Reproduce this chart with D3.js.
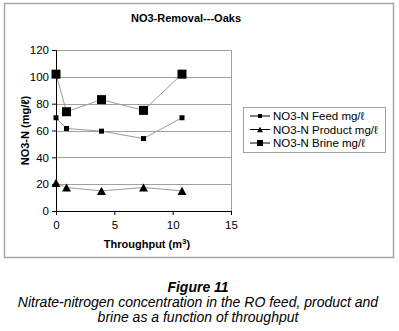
<!DOCTYPE html>
<html>
<head>
<meta charset="utf-8">
<script src="https://cdn.jsdelivr.net/npm/d3@7"></script>
<style>
  body { margin: 0; background: #fff; }
  svg { display: block; font-family: Arial, "Liberation Sans", sans-serif; }
</style>
</head>
<body>
<div id="chart"></div>
<script>
// data
const throughput = [0, 0.9, 3.9, 7.5, 10.8];
const feed = [69.5, 61.5, 59.5, 54, 69.5];
const product = [21, 17.5, 15, 17.5, 15];
const brine = [102, 74, 83, 75, 102];
const seriesNames = ["NO3-N Feed mg/\u2113", "NO3-N Product mg/\u2113", "NO3-N Brine mg/\u2113"];
const xTicks = [0, 5, 10, 15];
const yTicks = [0, 20, 40, 60, 80, 100, 120];

const width = 399, height = 331;
const svg = d3.select("#chart").append("svg")
    .attr("width", width)
    .attr("height", height);

// outer chart frame
svg.append("rect")
    .attr("x", 4.5).attr("y", 3.5)
    .attr("width", 389).attr("height", 254)
    .attr("fill", "none")
    .attr("stroke", "#a6a6a6")
    .attr("stroke-width", 1.5);

// title
svg.append("text")
    .attr("x", 186).attr("y", 22)
    .attr("text-anchor", "middle")
    .style("font-size", "11px")
    .style("font-weight", "bold")
    .text("NO3-Removal---Oaks");

const plot = { left: 56, right: 231, top: 50, bottom: 211 };

const x = d3.scaleLinear().domain([0, 15]).range([plot.left, plot.right]);
const y = d3.scaleLinear().domain([0, 120]).range([plot.bottom, plot.top]);

// gridlines
svg.append("g")
    .selectAll("line")
    .data(yTicks.filter(d => d > 0))
    .enter().append("line")
    .attr("x1", plot.left).attr("x2", plot.right)
    .attr("y1", d => Math.round(y(d)) + 0.5)
    .attr("y2", d => Math.round(y(d)) + 0.5)
    .attr("stroke", "#a0a0a0");

// right edge of plot area
svg.append("line")
    .attr("x1", plot.right + 0.5).attr("x2", plot.right + 0.5)
    .attr("y1", plot.top).attr("y2", plot.bottom)
    .attr("stroke", "#a0a0a0");

// axes
const yAxis = svg.append("g")
    .attr("transform", `translate(${plot.left},0)`)
    .call(d3.axisLeft(y).tickValues(yTicks).tickSize(4).tickPadding(3));
const xAxis = svg.append("g")
    .attr("transform", `translate(0,${plot.bottom})`)
    .call(d3.axisBottom(x).tickValues(xTicks).tickSize(4).tickPadding(6));

[xAxis, yAxis].forEach(g => {
    g.selectAll("text").style("font-size", "11.5px").style("font-family", "Arial, 'Liberation Sans', sans-serif").attr("fill", "#000");
    g.select(".domain").attr("stroke", "#000");
    g.selectAll(".tick line").attr("stroke", "#000");
});

// axis titles
svg.append("text")
    .attr("transform", `translate(25,${(plot.top + plot.bottom) / 2}) rotate(-90)`)
    .attr("text-anchor", "middle")
    .attr("dy", "0.35em")
    .style("font-size", "11px")
    .style("font-weight", "bold")
    .text("NO3-N (mg/\u2113)");

const xTitle = svg.append("text")
    .attr("x", 147).attr("y", 248)
    .attr("text-anchor", "middle")
    .style("font-size", "11px")
    .style("font-weight", "bold");
xTitle.append("tspan").text("Throughput (m");
xTitle.append("tspan").attr("dy", -4).style("font-size", "8px").text("3");
xTitle.append("tspan").attr("dy", 4).text(")");

// series
const line = d3.line().x(d => x(d[0])).y(d => y(d[1]));
const series = [
    { name: seriesNames[0], values: feed, shape: "square", size: 5 },
    { name: seriesNames[1], values: product, shape: "triangle", size: 9 },
    { name: seriesNames[2], values: brine, shape: "square", size: 9 }
];

function drawMarker(g, shape, size, cx, cy) {
    if (shape === "square") {
        g.append("rect")
            .attr("x", cx - size / 2).attr("y", cy - size / 2)
            .attr("width", size).attr("height", size)
            .attr("fill", "#000");
    } else {
        const h = size * 0.9;
        g.append("path")
            .attr("d", `M${cx},${cy - h / 2}L${cx + size / 2},${cy + h / 2}L${cx - size / 2},${cy + h / 2}Z`)
            .attr("fill", "#000");
    }
}

series.forEach(s => {
    const pts = throughput.map((t, i) => [t, s.values[i]]);
    svg.append("path")
        .attr("d", line(pts))
        .attr("fill", "none")
        .attr("stroke", "#9a9a9a")
        .attr("stroke-width", 1);
    const g = svg.append("g");
    pts.forEach(p => drawMarker(g, s.shape, s.size, x(p[0]), y(p[1])));
});

// legend
const legend = svg.append("g");
legend.append("rect")
    .attr("x", 243.5).attr("y", 107.5)
    .attr("width", 142).attr("height", 45)
    .attr("fill", "#fff")
    .attr("stroke", "#a0a0a0");

series.forEach((s, i) => {
    const ly = 116 + i * 13.5;
    legend.append("line")
        .attr("x1", 250).attr("x2", 270)
        .attr("y1", ly).attr("y2", ly)
        .attr("stroke", "#000");
    drawMarker(legend, s.shape, s.shape === "square" ? (i === 0 ? 4 : 6) : 6, 260, ly);
    legend.append("text")
        .attr("x", 273).attr("y", ly)
        .attr("dy", "0.35em")
        .style("font-size", "11.5px")
        .text(s.name);
});

// caption
const caption = [
    { text: "Figure 11", y: 292, bold: true },
    { text: "Nitrate-nitrogen concentration in the RO feed, product and", y: 307, bold: false },
    { text: "brine as a function of throughput", y: 322, bold: false }
];
svg.selectAll("text.caption")
    .data(caption)
    .enter().append("text")
    .attr("class", "caption")
    .attr("x", 198)
    .attr("y", d => d.y)
    .attr("text-anchor", "middle")
    .style("font-size", "14px")
    .style("font-style", "italic")
    .style("font-weight", d => d.bold ? "bold" : "normal")
    .text(d => d.text);
</script>
</body>
</html>
